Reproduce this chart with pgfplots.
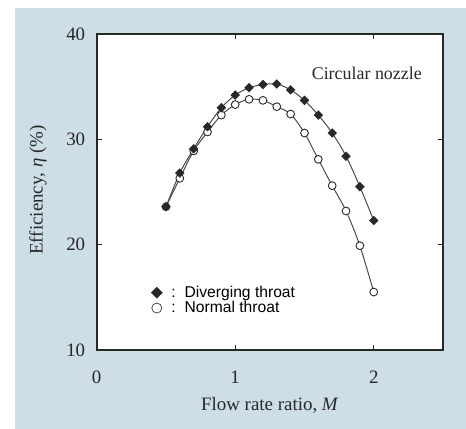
\documentclass[border=0pt]{standalone}
\usepackage{pgfplots}
\pgfplotsset{compat=1.18}
\usepackage{fontspec}
\setmainfont{Liberation Serif}
\setsansfont{Liberation Sans}
\definecolor{panel}{RGB}{205,222,231}
\definecolor{ink}{RGB}{40,40,40}
\definecolor{curve}{RGB}{75,75,75}

\begin{document}
\begin{tikzpicture}
  % page background and blue panel (axis south west is the origin)
  \fill[white] (-96.7bp,-79bp) rectangle (369.3bp,350bp);
  \fill[panel] (-81.7bp,-79bp) rectangle (369.3bp,342bp);
  \begin{axis}[
      scale only axis,
      width=346.3bp, height=316bp,
      xmin=0, xmax=2.5, ymin=10, ymax=40,
      xtick={0,1,2}, ytick={10,20,30,40},
      minor tick num=0,
      tick align=inside,
      major tick length=5bp,
      axis line style={ink, line width=1.6bp},
      tick style={ink, line width=1.2bp},
      axis background/.style={fill=white},
      /pgf/number format/assume math mode=true,
      tick label style={font=\fontsize{19}{22}\selectfont, text=ink},
      yticklabel style={xshift=-8bp},
      xticklabel style={yshift=-17bp},
      xlabel={Flow rate ratio, \textit{M}},
      ylabel={Efficiency, \textit{η} (\%)},
      label style={font=\fontsize{19}{22}\selectfont, text=ink},
      xlabel style={at={(axis description cs:0.5,-0.174)}, anchor=center},
      ylabel style={at={(axis description cs:-0.1695,0.506)}, anchor=center, rotate=0},
      legend style={at={(axis description cs:0.157,0.157)}, anchor=west,
        draw=none, fill=none, inner sep=0pt,
        font=\sffamily\fontsize{15.7}{18}\selectfont,
        row sep=-1.5bp},
      legend cell align=left,
      legend image code/.code={\draw[#1] plot coordinates {(0.15cm,0cm)};},
    ]
    % normal throat
    \addplot[curve, line width=1bp, smooth, mark=*,
      mark options={fill=white, draw=ink, line width=0.9bp}, mark size=3.9bp,
      forget plot]
      coordinates {
        (0.5,23.6) (0.6,26.3) (0.7,28.9) (0.8,30.7) (0.9,32.3) (1.0,33.3)
        (1.1,33.8) (1.2,33.7) (1.3,33.1) (1.4,32.4) (1.5,30.6) (1.6,28.1)
        (1.7,25.6) (1.8,23.2) (1.9,19.9) (2.0,15.5)
      };
    % diverging throat
    \addplot[curve, line width=1bp, smooth, mark=square*,
      mark options={fill=ink, draw=ink, rotate=45, line width=0.4bp}, mark size=3.1bp,
      forget plot]
      coordinates {
        (0.5,23.6) (0.6,26.8) (0.7,29.1) (0.8,31.2) (0.9,33.0) (1.0,34.2)
        (1.1,34.9) (1.2,35.2) (1.3,35.25) (1.4,34.7) (1.5,33.7) (1.6,32.3)
        (1.7,30.6) (1.8,28.4) (1.9,25.5) (2.0,22.3)
      };
    \addlegendimage{only marks, mark=square*, mark size=3.9bp,
      mark options={fill=ink, draw=ink, rotate=45}}
    \addlegendentry{\hspace{7bp}:\hspace{9bp}Diverging throat}
    \addlegendimage{only marks, mark=*, mark size=5bp,
      mark options={fill=white, draw=curve, line width=0.8bp}}
    \addlegendentry{\hspace{7bp}:\hspace{9bp}Normal throat}
    \node[font=\fontsize{18}{21}\selectfont, text=ink] at (axis cs:1.95,36.3)
      {Circular nozzle};
  \end{axis}
\end{tikzpicture}
\end{document}
